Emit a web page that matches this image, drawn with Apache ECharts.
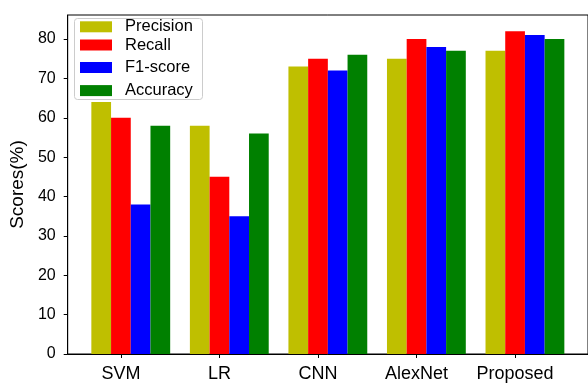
<!DOCTYPE html>
<html>
<head>
<meta charset="utf-8">
<script src="https://cdn.jsdelivr.net/npm/echarts@6/dist/echarts.min.js"></script>
<style>
  html, body { margin: 0; padding: 0; background: #fff; }
  #chart { width: 588px; height: 383px; }
</style>
</head>
<body>
<div id="chart"></div>
<script>
// Model names along the x axis
const categories = ['SVM', 'LR', 'CNN', 'AlexNet', 'Proposed'];

// Scores (%) per metric, one value per model
const precision = [64, 58, 73, 75, 77];
const recall    = [60, 45, 75, 80, 82];
const f1score   = [38, 35, 72, 78, 81];
const accuracy  = [58, 56, 76, 77, 80];

// Tick values shown on the y axis
const yTicks = [0, 10, 20, 30, 40, 50, 60, 70, 80];

const seriesNames = ['Precision', 'Recall', 'F1-score', 'Accuracy'];
const seriesValues = [precision, recall, f1score, accuracy];
const seriesColors = ['#bfbf00', '#ff0000', '#0000ff', '#008000'];

const FONT = '"Liberation Sans", Arial, sans-serif';
const BAR_W = 0.2;               // bar width in x-axis units
const xTicks = categories.map((c, i) => i);

const chart = echarts.init(document.getElementById('chart'), null, { renderer: 'canvas' });

// Each metric is shifted by one bar width, so a group spans i-0.3 .. i+0.5
const series = seriesNames.map((name, k) => ({
  name: name,
  type: 'bar',
  barGap: '-100%',
  barWidth: '100%',
  itemStyle: { color: seriesColors[k] },
  emphasis: { disabled: true },
  data: seriesValues[k].map((v, i) => [i + (k - 1) * BAR_W, v])
}));

const legendRows = [26.8, 45, 67.5, 90.6];

const option = {
  animation: false,
  backgroundColor: '#ffffff',
  grid: {
    left: 66, top: 15, right: -3, bottom: 28,
    show: true, borderColor: '#000', borderWidth: 1, backgroundColor: 'transparent'
  },
  xAxis: {
    type: 'value',
    min: -0.54,
    max: 4.74,
    minInterval: 1,
    maxInterval: 1,
    splitLine: { show: false },
    axisLine: { show: true, onZero: false, lineStyle: { color: '#000', width: 1 } },
    axisTick: { show: true, length: 4, lineStyle: { color: '#000' }, customValues: xTicks },
    axisLabel: {
      customValues: xTicks,
      formatter: v => categories[Math.round(v)] || '',
      color: '#000', fontSize: 18, fontFamily: FONT, margin: 11
    }
  },
  yAxis: {
    type: 'value',
    min: 0,
    max: 86.1,
    minInterval: 10,
    maxInterval: 10,
    name: 'Scores(%)',
    nameLocation: 'middle',
    nameGap: 37,
    nameTextStyle: { color: '#000', fontSize: 19, fontFamily: FONT },
    splitLine: { show: false },
    axisLine: { show: true, onZero: false, lineStyle: { color: '#000', width: 1 } },
    axisTick: { show: true, length: 4, lineStyle: { color: '#000' }, customValues: yTicks },
    axisLabel: {
      customValues: yTicks,
      color: '#000', fontSize: 16, fontFamily: FONT, margin: 12
    }
  },
  legend: seriesNames.map((name, k) => ({
    data: [name],
    left: 80,
    top: legendRows[k] - 10,
    orient: 'vertical',
    padding: 0,
    itemWidth: 32,
    itemHeight: 11,
    icon: 'rect',
    selectedMode: false,
    z: 11,
    textStyle: { color: '#000', fontSize: 16.5, fontFamily: FONT, lineHeight: 20, padding: [0, 0, 0, 8] }
  })),
  graphic: {
    elements: [{
      type: 'rect',
      left: 74, top: 18, z: 10,
      shape: { width: 128, height: 81, r: 3 },
      style: { fill: 'rgba(255,255,255,0.8)', stroke: '#cccccc', lineWidth: 1 }
    }]
  },
  series: series
};

chart.setOption(option);
</script>
</body>
</html>
